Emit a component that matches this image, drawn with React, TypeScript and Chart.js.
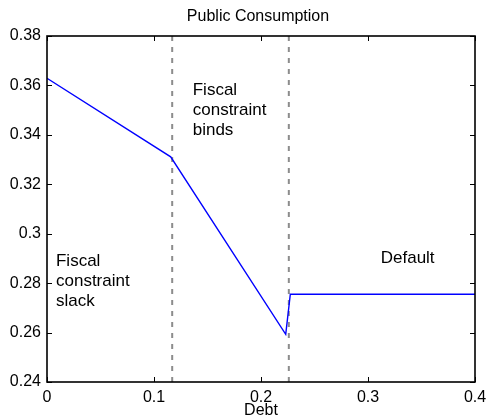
import React, { useEffect, useRef } from "react";
import { Chart, registerables } from "chart.js";

Chart.register(...registerables);

// Data
const debt = [0, 0.1156, 0.2231, 0.2274, 0.4];
const consumption = [0.3629, 0.3311, 0.2593, 0.2755, 0.2755];
const thresholds = [0.117, 0.226];
const xTicks = [0, 0.1, 0.2, 0.3, 0.4];
const yTicks = [0.24, 0.26, 0.28, 0.3, 0.32, 0.34, 0.36, 0.38];
const titleText = "Public Consumption";
const xLabel = "Debt";
const annotationTexts = [
  ["Fiscal", "constraint", "slack"],
  ["Fiscal", "constraint", "binds"],
  ["Default"],
];
const annotationX = [0.0084, 0.1362, 0.3119];
const annotationY = [0.2889, 0.3581, 0.2901];

const FONT = "'Liberation Sans', Arial, sans-serif";
const fmt = (v: number) => String(Number(v.toFixed(3)));

const framePlugin = {
  id: "frame",
  afterDatasetsDraw(chart: any) {
    const { ctx, chartArea: a, scales } = chart;
    const xs = scales.x;
    const ys = scales.y;
    ctx.save();
    // annotations
    ctx.fillStyle = "#000";
    ctx.font = `17px ${FONT}`;
    ctx.textAlign = "left";
    ctx.textBaseline = "middle";
    annotationTexts.forEach((lines, i) => {
      const px = xs.getPixelForValue(annotationX[i]);
      const py = ys.getPixelForValue(annotationY[i]);
      lines.forEach((t, j) => ctx.fillText(t, px, py + j * 20));
    });
    // box
    ctx.strokeStyle = "#000";
    ctx.lineWidth = 1.6;
    ctx.strokeRect(a.left, a.top, a.right - a.left, a.bottom - a.top);
    // inward ticks
    ctx.lineWidth = 1;
    const L = 5;
    ctx.beginPath();
    xTicks.forEach((v) => {
      const px = Math.round(xs.getPixelForValue(v)) + 0.5;
      ctx.moveTo(px, a.bottom);
      ctx.lineTo(px, a.bottom - L);
      ctx.moveTo(px, a.top);
      ctx.lineTo(px, a.top + L);
    });
    yTicks.forEach((v) => {
      const py = Math.round(ys.getPixelForValue(v)) + 0.5;
      ctx.moveTo(a.left, py);
      ctx.lineTo(a.left + L, py);
      ctx.moveTo(a.right, py);
      ctx.lineTo(a.right - L, py);
    });
    ctx.stroke();
    // title and x label
    ctx.font = `16px ${FONT}`;
    ctx.textAlign = "center";
    ctx.textBaseline = "middle";
    ctx.fillText(titleText, (a.left + a.right) / 2 - 3, 17);
    ctx.fillText(xLabel, (a.left + a.right) / 2, 411);
    ctx.restore();
  },
};

export default function App() {
  const ref = useRef<HTMLCanvasElement | null>(null);
  useEffect(() => {
    if (!ref.current) return;
    const datasets: any[] = [
      {
        data: debt.map((x, i) => ({ x, y: consumption[i] })),
        borderColor: "#0000ff",
        borderWidth: 1.4,
        pointRadius: 0,
        tension: 0,
      },
      ...thresholds.map((t) => ({
        data: [
          { x: t, y: yTicks[0] },
          { x: t, y: yTicks[yTicks.length - 1] },
        ],
        borderColor: "#8c8c8c",
        borderWidth: 2,
        borderDash: [5, 6],
        pointRadius: 0,
      })),
    ];
    const chart = new Chart(ref.current, {
      type: "line",
      data: { datasets },
      plugins: [framePlugin],
      options: {
        animation: false,
        responsive: true,
        maintainAspectRatio: false,
        layout: { padding: { top: 36, right: 11, left: 0, bottom: 0 } },
        plugins: { legend: { display: false }, title: { display: false }, tooltip: { enabled: false } },
        scales: {
          x: {
            type: "linear",
            min: 0,
            max: 0.4,
            afterFit: (s: any) => {
              s.height = 37;
              s.paddingLeft = 0;
              s.paddingRight = 0;
            },
            afterBuildTicks: (s: any) => {
              s.ticks = xTicks.map((v) => ({ value: v }));
            },
            grid: { display: false, drawTicks: false },
            border: { display: false },
            ticks: {
              color: "#000",
              padding: 6,
              font: { family: FONT, size: 16 },
              maxRotation: 0,
              callback: (v: any) => fmt(Number(v)),
            },
          },
          y: {
            type: "linear",
            min: 0.24,
            max: 0.38,
            afterFit: (s: any) => {
              s.width = 47;
              s.paddingTop = 0;
              s.paddingBottom = 0;
            },
            afterBuildTicks: (s: any) => {
              s.ticks = yTicks.map((v) => ({ value: v }));
            },
            grid: { display: false, drawTicks: false },
            border: { display: false },
            ticks: {
              color: "#000",
              padding: 6,
              font: { family: FONT, size: 16 },
              callback: (v: any) => fmt(Number(v)),
            },
          },
        },
      },
    });
    return () => chart.destroy();
  }, []);
  return (
    <div style={{ position: "fixed", left: 0, top: 0, width: 486, height: 419, background: "#fff" }}>
      <canvas ref={ref} />
    </div>
  );
}
